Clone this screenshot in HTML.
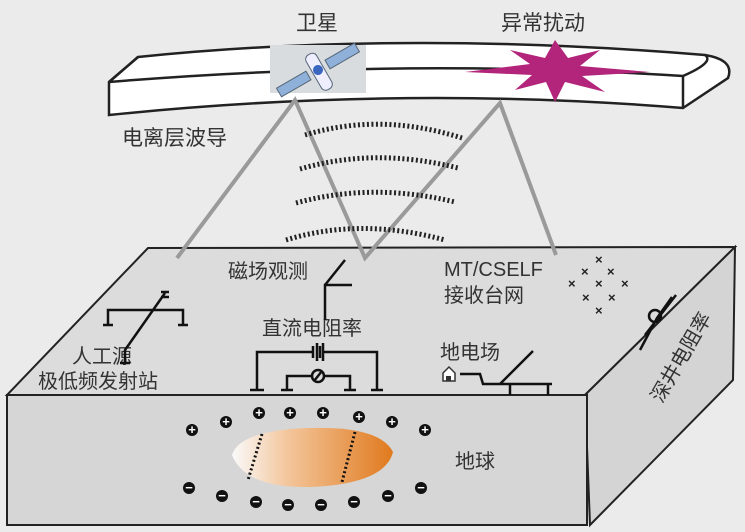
<!DOCTYPE html>
<html><head><meta charset="utf-8"><style>
body{margin:0;background:#ebebeb;}
svg{display:block;font-family:"Liberation Sans","Noto Sans CJK SC",sans-serif;}
</style></head><body>
<svg width="745" height="532" viewBox="0 0 745 532" xmlns="http://www.w3.org/2000/svg">
<defs>
<linearGradient id="g" x1="0" x2="1" y1="0" y2="0">
<stop offset="0" stop-color="#fafafa"/><stop offset="0.35" stop-color="#f3c59a"/><stop offset="1" stop-color="#e07a1e"/>
</linearGradient>
</defs>
<rect width="745" height="532" fill="#ebebeb"/>
<!-- ionosphere band -->
<path d="M138,57 Q400,30 705,55 Q735,60 728,78 L683,108 Q400,85 109,115 L109,82 Z" fill="#fff" stroke="#222" stroke-width="2.5"/>
<path d="M109,82 Q400,58 683,76 L683,108" fill="none" stroke="#222" stroke-width="2.5"/>
<path d="M683,76 Q715,62 705,55" fill="none" stroke="#222" stroke-width="2.5"/>
<path d="M109,82 L138,57" fill="none" stroke="#222" stroke-width="2.5"/>
<!-- satellite -->
<rect x="270" y="45" width="96" height="48" fill="#d9dcdf"/>
<g transform="translate(318,70) rotate(-30)">
<rect x="-45" y="-5" width="34" height="10" fill="#8fb0d8" stroke="#567"/>
<rect x="11" y="-5" width="34" height="10" fill="#8fb0d8" stroke="#567"/>
<rect x="-6" y="-18" width="12" height="40" rx="5" fill="#eef" stroke="#567"/>
<circle r="5" fill="#3a66c0"/>
</g>
<!-- star -->
<polygon points="555,40 568,58 600,50 580,66 650,72 582,76 605,92 565,82 555,102 546,82 515,90 532,75 465,72 530,64 510,50 545,58" fill="#b3257a"/>
<!-- text top -->
<text x="296" y="30" font-size="21" fill="#333">卫星</text>
<text x="501" y="30" font-size="21" fill="#333">异常扰动</text>
<text x="122" y="145" font-size="21" fill="#333">电离层波导</text>
<!-- box -->
<polygon points="148,248 735,247 585,395 7,395" fill="#dcdcdc" stroke="#222" stroke-width="2"/>
<polygon points="585,395 735,247 733,380 590,525" fill="#d4d4d4" stroke="#222" stroke-width="2"/>
<rect x="7" y="395" width="580" height="130" fill="#d6d6d6" stroke="#222" stroke-width="2"/>
<!-- gray rays -->
<g stroke="#9a9a9a" stroke-width="4" fill="none">
<path d="M177,258 L295,100 L365,258 L500,103 L556,255"/>
</g>
<!-- dotted arcs -->
<g stroke="#222" stroke-width="5" fill="none" stroke-dasharray="2 2.5">
<path d="M305,135 Q380,112 462,138"/>
<path d="M300,169 Q375,147 458,168"/>
<path d="M296,203 Q372,182 455,202"/>
<path d="M286,240 Q360,217 445,240"/>
</g>
<!-- labels top face -->
<g font-size="20" fill="#333">
<text x="228" y="278">磁场观测</text>
<text x="444" y="276">MT/CSELF</text>
<text x="444" y="302">接收台网</text>
<text x="72" y="363">人工源</text>
<text x="38" y="388">极低频发射站</text>
<text x="262" y="335">直流电阻率</text>
<text x="440" y="359">地电场</text>
<text x="455" y="468">地球</text>
<text x="283" y="467">震中</text>
<text transform="translate(662,404) rotate(-60)">深井电阻率</text>
</g>
<!-- crosses -->
<g font-size="13" fill="#222" font-weight="bold">
<text x="595" y="264">×</text><text x="581" y="276">×</text><text x="607" y="276">×</text>
<text x="568" y="288">×</text><text x="595" y="288">×</text><text x="621" y="288">×</text>
<text x="582" y="302">×</text><text x="608" y="302">×</text><text x="595" y="315">×</text>
</g>
<!-- circuits -->
<g stroke="#111" stroke-width="2.5" fill="none">
<path d="M108,325 L108,310 L183,310 L183,325"/>
<path d="M125,362 L125,350 L165,293"/>
<path d="M103,325h10M178,325h10M120,363h10M161,292h8M161,297h8"/>
<path d="M325,320 L325,285 L352,285 M325,285 L345,260"/>
<path d="M257,390 L257,352 L312,352 M324,352 L377,352 L377,390"/>
<path d="M313,346v12M317,343v18M320,346v12M323,343v18"/>
<path d="M287,390 L287,376 L311,376 M325,376 L350,376 L350,390"/>
<circle cx="318" cy="376" r="6"/>
<path d="M314,381 L322,371"/>
<path d="M250,390h14M281,390h12M344,390h12M371,390h12"/>
<path d="M460,374 L480,374 L483,384 L552,384 M510,384 L510,395 M548,384 L548,395 M500,384 L533,351"/>
<path d="M640,350 L657,318 L672,297 M645,335 L676,295"/>
<circle cx="655" cy="316" r="6"/>
</g>
<path d="M443,373 L449,367 L455,373 L455,381 L443,381 Z" fill="#fff" stroke="#333" stroke-width="1.5"/>
<rect x="446" y="376" width="5" height="5" fill="#333"/>
<!-- epicenter -->
<path d="M232,455 Q240,430 310,428 Q380,426 393,452 Q385,484 310,487 Q245,488 232,455 Z" fill="url(#g)"/>
<g stroke="#111" stroke-width="3" stroke-dasharray="2 2.5">
<path d="M262,434 L248,480"/><path d="M355,432 L342,482"/>
</g>
<!-- charges -->
<g font-size="13" fill="#111" text-anchor="middle" font-weight="bold">
<g fill="#111">
<circle cx="192" cy="430" r="6"/><circle cx="226" cy="422" r="6"/><circle cx="259" cy="413" r="6"/><circle cx="290" cy="413" r="6"/><circle cx="323" cy="413" r="6"/><circle cx="359" cy="417" r="6"/><circle cx="392" cy="422" r="6"/><circle cx="425" cy="430" r="6"/>
<circle cx="189" cy="488" r="6"/><circle cx="222" cy="496" r="6"/><circle cx="256" cy="502" r="6"/><circle cx="288" cy="505" r="6"/><circle cx="321" cy="505" r="6"/><circle cx="354" cy="502" r="6"/><circle cx="388" cy="496" r="6"/><circle cx="421" cy="488" r="6"/>
</g>
<g fill="#fff">
<text x="192" y="434">+</text><text x="226" y="426">+</text><text x="259" y="417">+</text><text x="290" y="417">+</text><text x="323" y="417">+</text><text x="359" y="421">+</text><text x="392" y="426">+</text><text x="425" y="434">+</text>
<text x="189" y="492">−</text><text x="222" y="500">−</text><text x="256" y="506">−</text><text x="288" y="509">−</text><text x="321" y="509">−</text><text x="354" y="506">−</text><text x="388" y="500">−</text><text x="421" y="492">−</text>
</g>
</g>
</svg>
</body></html>
